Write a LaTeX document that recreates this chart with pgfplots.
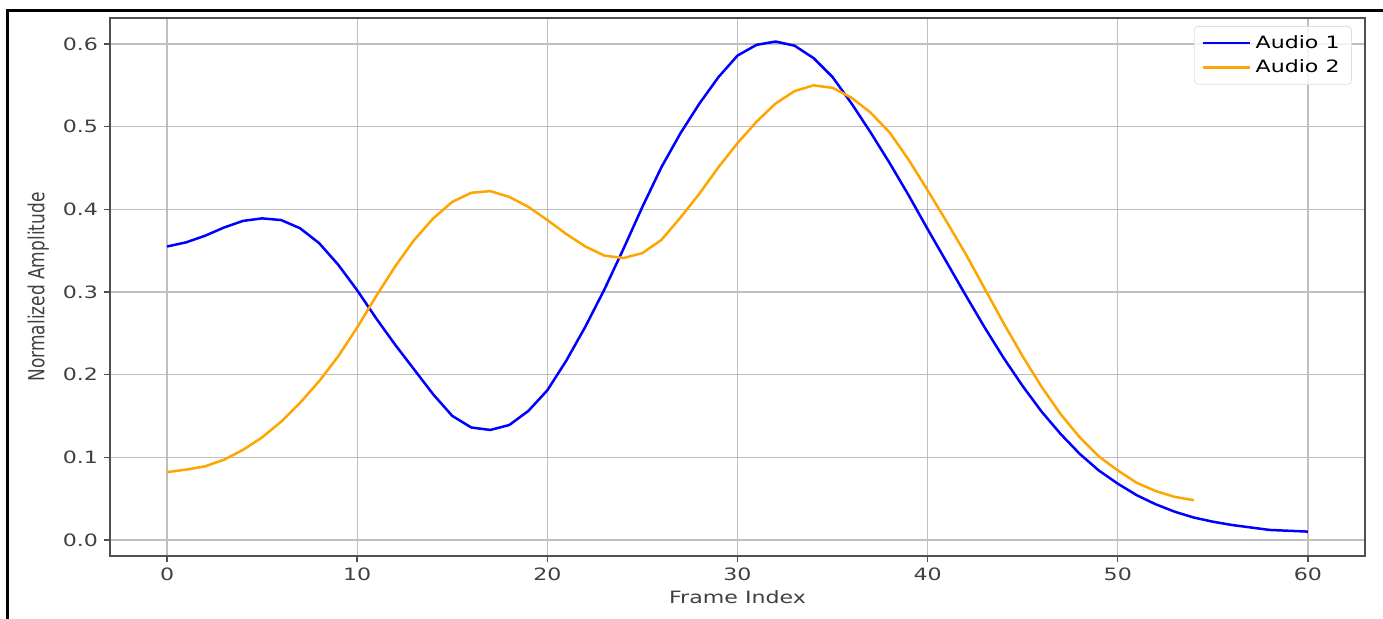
\documentclass[border=0pt]{standalone}
\usepackage{fontspec}
\setmainfont{DejaVu Sans}[FakeStretch=1.3]
\newfontfamily\ylabfont{DejaVu Sans}
\usepackage{pgfplots}
\pgfplotsset{compat=1.18}

\definecolor{mplorange}{RGB}{255,165,0}
\definecolor{spinegray}{RGB}{80,80,80}

\pgfplotstableread{
f a
0 0.355
1 0.360
2 0.368
3 0.378
4 0.386
5 0.389
6 0.387
7 0.377
8 0.359
9 0.333
10 0.302
11 0.268
12 0.236
13 0.206
14 0.176
15 0.150
16 0.136
17 0.133
18 0.139
19 0.156
20 0.181
21 0.217
22 0.258
23 0.303
24 0.352
25 0.403
26 0.451
27 0.492
28 0.528
29 0.560
30 0.586
31 0.599
32 0.603
33 0.598
34 0.583
35 0.560
36 0.528
37 0.493
38 0.456
39 0.417
40 0.376
41 0.336
42 0.296
43 0.257
44 0.220
45 0.186
46 0.155
47 0.128
48 0.104
49 0.084
50 0.068
51 0.054
52 0.043
53 0.034
54 0.027
55 0.022
56 0.018
57 0.015
58 0.012
59 0.011
60 0.010
}\audioone

\pgfplotstableread{
f a
0 0.082
1 0.085
2 0.089
3 0.097
4 0.109
5 0.124
6 0.143
7 0.166
8 0.192
9 0.222
10 0.257
11 0.295
12 0.331
13 0.363
14 0.389
15 0.409
16 0.420
17 0.422
18 0.415
19 0.403
20 0.387
21 0.370
22 0.355
23 0.344
24 0.341
25 0.347
26 0.363
27 0.390
28 0.419
29 0.451
30 0.480
31 0.506
32 0.528
33 0.543
34 0.550
35 0.547
36 0.535
37 0.517
38 0.493
39 0.460
40 0.423
41 0.385
42 0.346
43 0.304
44 0.262
45 0.222
46 0.185
47 0.152
48 0.124
49 0.101
50 0.084
51 0.069
52 0.059
53 0.052
54 0.048
}\audiotwo

\begin{document}
\fontsize{8.5}{10}\selectfont
\begin{tikzpicture}
\begin{axis}[
    at={(0,0)}, anchor=south west,
    scale only axis,
    width=627.5pt, height=269pt,
    xmin=-3, xmax=63,
    ymin=-0.0195, ymax=0.6315,
    xtick={0,10,...,60},
    ytick={0,0.1,...,0.6},
    xtick pos=bottom, ytick pos=left,
    y tick label style={/pgf/number format/fixed, /pgf/number format/fixed zerofill, /pgf/number format/precision=1},
    /pgf/number format/assume math mode=true,
    tick align=outside,
    tick style={spinegray, line width=0.7pt},
    major tick length=3pt,
    axis line style={spinegray, line width=0.9pt},
    grid=major,
    major grid style={gray!50, line width=0.65pt},
    ticklabel style={font=\fontsize{8.5}{10}\selectfont, text=black!75},
    xlabel={Frame Index},
    xlabel style={font=\fontsize{8.5}{10}\selectfont, text=black!75, yshift=1pt},
    ylabel={\scalebox{1}[1.3]{\ylabfont Normalized Amplitude}},
    ylabel style={font=\fontsize{8.5}{10}\selectfont, text=black!75, yshift=1pt},
    legend style={
        at={(1,1)}, anchor=north east, xshift=-6.5pt, yshift=-4pt,
        draw=gray!25, rounded corners=2pt, fill=white, fill opacity=0.8,
        text opacity=1, font=\fontsize{8.5}{10}\selectfont,
        inner xsep=4pt, inner ysep=2.5pt,
        row sep=0.5pt,
    },
    legend cell align=left,
    legend image code/.code={\draw[#1] (0pt,0pt) -- (23.5pt,0pt);},
]
\addplot[blue, line width=1.25pt] table[x=f, y=a] {\audioone};
\addlegendentry{Audio 1}
\addplot[mplorange, line width=1.25pt] table[x=f, y=a] {\audiotwo};
\addlegendentry{Audio 2}
\end{axis}
\draw[black, line width=1.5pt] (-51pt,-31.5pt) -- (-51pt,272.75pt) -- (636.5pt,272.75pt);
\pgfresetboundingbox
\useasboundingbox (-55pt,-31.5pt) rectangle (636.5pt,278pt);
\end{tikzpicture}
\end{document}
